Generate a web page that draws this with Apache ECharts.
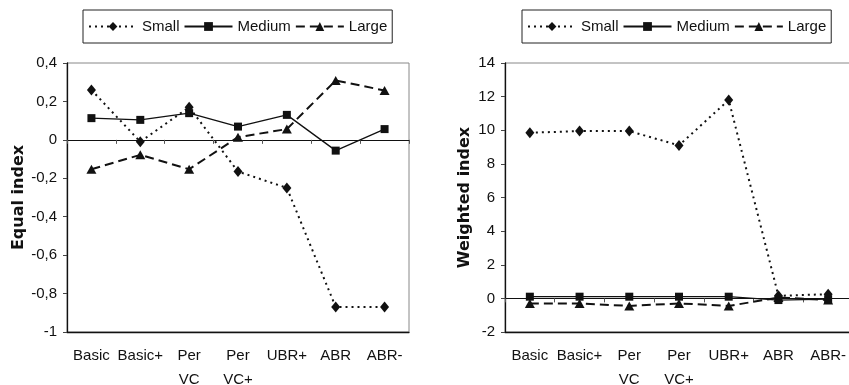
<!DOCTYPE html>
<html>
<head>
<meta charset="utf-8">
<script src="https://cdn.jsdelivr.net/npm/echarts@6/dist/echarts.min.js"></script>
<style>
  html, body { margin: 0; padding: 0; background: #fff; }
  #chart { width: 849px; height: 385px; }
</style>
</head>
<body>
<div id="chart"></div>
<script>
// Categories shared by both panels
const categories = ['Basic', 'Basic+', 'Per\nVC', 'Per\nVC+', 'UBR+', 'ABR', 'ABR-'];

// Equal index values
const equalSmall  = [0.26, -0.01, 0.17, -0.165, -0.25, -0.87, -0.87];
const equalMedium = [0.113, 0.104, 0.139, 0.069, 0.13, -0.056, 0.056];
const equalLarge  = [-0.153, -0.078, -0.153, 0.014, 0.056, 0.309, 0.257];

// Weighted index values
const weightedSmall  = [9.85, 9.95, 9.95, 9.1, 11.8, 0.15, 0.25];
const weightedMedium = [0.1, 0.1, 0.1, 0.1, 0.1, -0.1, -0.05];
const weightedLarge  = [-0.3, -0.3, -0.45, -0.3, -0.45, 0.05, -0.1];

const seriesNames = ['Small', 'Medium', 'Large'];

const FONT = "'Liberation Sans Narrow', 'Arial Narrow', 'Liberation Sans', Arial, sans-serif";
const INK = '#111';

const styles = {
  Small:  { symbol: 'diamond',  symbolSize: [9, 11], lineStyle: { color: INK, width: 2, type: [2, 4] } },
  Medium: { symbol: 'rect',     symbolSize: [8, 8],  lineStyle: { color: INK, width: 1.3, type: 'solid' } },
  Large:  { symbol: 'triangle', symbolSize: [10, 9], lineStyle: { color: INK, width: 2, type: [9, 5] } }
};

function makeSeries(name, data, idx) {
  const s = styles[name];
  return {
    name: name,
    type: 'line',
    xAxisIndex: idx * 2,
    yAxisIndex: idx,
    data: data,
    symbol: s.symbol,
    symbolSize: s.symbolSize,
    showAllSymbol: true,
    itemStyle: { color: INK, borderWidth: 0 },
    lineStyle: s.lineStyle,
    emphasis: { disabled: true },
    z: name === 'Small' ? 3 : 2
  };
}

function commaFmt(v) { return String(v).replace('.', ','); }

function legendFor(left) {
  return {
    left: left,
    top: 10,
    data: seriesNames,
    itemWidth: 48,
    itemHeight: 11,
    itemGap: 4,
    padding: [9, 5, 9, 5],
    borderColor: '#222',
    borderWidth: 1,
    selectedMode: false,
    textStyle: { fontFamily: FONT, fontSize: 15, color: INK }
  };
}

function xAxesFor(gridIndex) {
  return [
    {
      type: 'category', gridIndex: gridIndex, data: categories, position: 'bottom',
      boundaryGap: true,
      axisLine: { onZero: false, lineStyle: { color: INK, width: 1.3 } },
      axisTick: { show: false },
      axisLabel: { fontFamily: FONT, fontSize: 15, color: INK, margin: 12, lineHeight: 24, interval: 0 },
      splitLine: { show: false }
    },
    {
      type: 'category', gridIndex: gridIndex, data: categories, position: 'top',
      boundaryGap: true,
      axisLine: { onZero: true, lineStyle: { color: INK, width: 1.2 } },
      axisTick: { show: true, inside: true, length: 4, lineStyle: { color: '#555' } },
      axisLabel: { show: false },
      splitLine: { show: false }
    }
  ];
}

function yAxisFor(gridIndex, min, max, interval, name, gap) {
  return {
    type: 'value', gridIndex: gridIndex, min: min, max: max, interval: interval,
    name: name, nameLocation: 'middle', nameRotate: 90, nameGap: gap,
    nameTextStyle: { fontFamily: "'DejaVu Sans', sans-serif", fontWeight: 'bold', fontSize: 16, color: INK },
    axisLine: { show: true, lineStyle: { color: INK, width: 1.3 } },
    axisTick: { show: true, length: 4, lineStyle: { color: '#444' } },
    axisLabel: { fontFamily: FONT, fontSize: 15, color: INK, margin: 10, formatter: commaFmt },
    splitLine: { show: false }
  };
}

const chart = echarts.init(document.getElementById('chart'), null, { renderer: 'canvas' });

const gridBase = { top: 63, bottom: 53, show: true, borderColor: '#888', borderWidth: 1,
                   containLabel: false, outerBoundsMode: 'none' };

chart.setOption({
  animation: false,
  backgroundColor: '#fff',
  legend: [legendFor(83), legendFor(522)],
  grid: [
    Object.assign({ left: 67, right: 440 }, gridBase),
    Object.assign({ left: 505, right: -4 }, gridBase)
  ],
  xAxis: [...xAxesFor(0), ...xAxesFor(1)],
  yAxis: [
    yAxisFor(0, -1, 0.4, 0.2, 'Equal index', 40),
    yAxisFor(1, -2, 14, 2, 'Weighted index', 32)
  ],
  series: [
    makeSeries('Small', equalSmall, 0),
    makeSeries('Medium', equalMedium, 0),
    makeSeries('Large', equalLarge, 0),
    makeSeries('Small', weightedSmall, 1),
    makeSeries('Medium', weightedMedium, 1),
    makeSeries('Large', weightedLarge, 1)
  ]
});
</script>
</body>
</html>
